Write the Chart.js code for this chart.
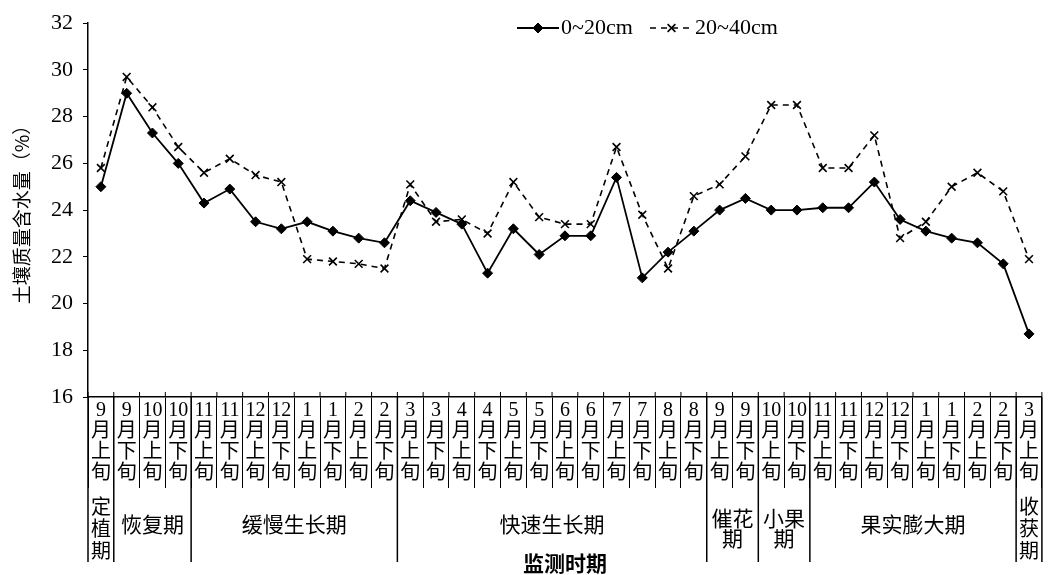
<!DOCTYPE html>
<html>
<head>
<meta charset="utf-8">
<script src="https://cdn.jsdelivr.net/npm/chart.js@4.4.0/dist/chart.umd.min.js"></script>
<style>
  html, body { margin: 0; padding: 0; background: #fff; }
</style>
</head>
<body>
<canvas id="myChart" width="1049" height="575"></canvas>
<script>
// monitoring dates: month + 旬
const months = ["9","9","10","10","11","11","12","12","1","1","2","2","3","3","4","4","5","5","6","6","7","7","8","8","9","9","10","10","11","11","12","12","1","1","2","2","3"];
const xun = ["上","下","上","下","上","下","上","下","上","下","上","下","上","下","上","下","上","下","上","下","上","下","上","下","上","下","上","下","上","下","上","下","上","下","上","下","上"];

// soil moisture (%)
const layer1 = [25.0, 29.0, 27.3, 26.0, 24.3, 24.9, 23.5, 23.2, 23.5, 23.1, 22.8, 22.6,
  24.4, 23.9, 23.4, 21.3, 23.2, 22.1, 22.9, 22.9, 25.4, 21.1, 22.2, 23.1,
  24.0, 24.5, 24.0, 24.0, 24.1, 24.1, 25.2, 23.6, 23.1, 22.8, 22.6, 21.7, 18.7];
const layer2 = [25.8, 29.7, 28.4, 26.7, 25.6, 26.2, 25.5, 25.2, 21.9, 21.8, 21.7, 21.5,
  25.1, 23.5, 23.6, 23.0, 25.2, 23.7, 23.4, 23.4, 26.7, 23.8, 21.5, 24.6,
  25.1, 26.3, 28.5, 28.5, 25.8, 25.8, 27.2, 22.8, 23.5, 25.0, 25.6, 24.8, 21.9];

// growth stages
const phaseNames = [["定","植","期"], ["恢复期"], ["缓慢生长期"], ["快速生长期"], ["催花","期"], ["小果","期"], ["果实膨大期"], ["收","获","期"]];
const phaseStart = [0, 1, 4, 12, 24, 26, 28, 36];
const phaseEnd = [0, 3, 11, 23, 25, 27, 35, 36];

const yTicks = { min: 16, max: 32, step: 2 };

const serif = "'Liberation Serif', 'Noto Sans CJK SC', serif";
const cjk = "'Noto Sans CJK SC', sans-serif";

const labels = months.map((m, i) => [m, "月", xun[i], "旬"]);

// stage labels + long dividers under the axis
const phasePlugin = {
  id: "phases",
  afterDraw(chart) {
    const ctx = chart.ctx;
    const xs = chart.scales.x;
    const w = xs.getPixelForValue(1) - xs.getPixelForValue(0);
    const top = xs.top;
    ctx.save();
    ctx.strokeStyle = "#000";
    ctx.lineWidth = 1.5;
    for (let i = 0; i < phaseStart.length; i++) {
      const x0 = xs.getPixelForValue(phaseStart[i]) - w / 2;
      const x1 = xs.getPixelForValue(phaseEnd[i]) + w / 2;
      ctx.beginPath();
      ctx.moveTo(x0, top);
      ctx.lineTo(x0, 562);
      ctx.stroke();
      if (i === phaseStart.length - 1) {
        ctx.beginPath();
        ctx.moveTo(x1, top);
        ctx.lineTo(x1, 562);
        ctx.stroke();
      }
      const lines = phaseNames[i];
      const lh = lines.length === 3 ? 22 : 20;
      const cy = lines.length === 1 ? 524 : 528;
      ctx.fillStyle = "#000";
      ctx.font = (lines.length === 3 ? "20px " : "21px ") + cjk;
      ctx.textAlign = "center";
      ctx.textBaseline = "middle";
      lines.forEach((t, k) => {
        ctx.fillText(t, (x0 + x1) / 2, cy + (k - (lines.length - 1) / 2) * lh);
      });
    }
    // short ticks above the axis at each category edge
    ctx.lineWidth = 1;
    for (let i = 0; i <= months.length; i++) {
      const x = xs.getPixelForValue(0) - w / 2 + i * w;
      ctx.beginPath();
      ctx.moveTo(x, top - 5);
      ctx.lineTo(x, top);
      ctx.stroke();
    }
    ctx.restore();
  }
};

// legend: line + marker + text
const legendPlugin = {
  id: "lineLegend",
  afterDraw(chart) {
    const ctx = chart.ctx;
    const spots = [[517, 559], [650, 693]];
    const y = 28;
    ctx.save();
    chart.data.datasets.forEach((ds, i) => {
      const [a, b] = spots[i];
      ctx.strokeStyle = ds.borderColor;
      ctx.lineWidth = ds.borderWidth;
      ctx.setLineDash(ds.borderDash || []);
      ctx.beginPath();
      ctx.moveTo(a, y);
      ctx.lineTo(b, y);
      ctx.stroke();
      ctx.setLineDash([]);
      ctx.fillStyle = ds.pointBackgroundColor;
      ctx.lineWidth = ds.pointBorderWidth;
      Chart.helpers.drawPoint(ctx, { pointStyle: ds.pointStyle, radius: ds.pointRadius, borderWidth: ds.pointBorderWidth }, (a + b) / 2, y);
      ctx.fillStyle = "#000";
      ctx.font = "22px " + serif;
      ctx.textAlign = "left";
      ctx.textBaseline = "middle";
      ctx.fillText(ds.label, b + 2, y);
    });
    ctx.restore();
  }
};

const ctx = document.getElementById("myChart").getContext("2d");
const chart = new Chart(ctx, {
  type: "line",
  data: {
    labels: labels,
    datasets: [
      {
        label: "0~20cm",
        data: layer1,
        borderColor: "#000",
        borderWidth: 1.8,
        pointStyle: "rectRot",
        pointRadius: 5,
        pointBackgroundColor: "#000",
        pointBorderColor: "#000",
        pointBorderWidth: 1,
        tension: 0,
        fill: false
      },
      {
        label: "20~40cm",
        data: layer2,
        borderColor: "#000",
        borderWidth: 1.6,
        borderDash: [6, 5],
        pointStyle: "crossRot",
        pointRadius: 5.5,
        pointBackgroundColor: "#000",
        pointBorderColor: "#000",
        pointBorderWidth: 1.6,
        tension: 0,
        fill: false
      }
    ]
  },
  options: {
    responsive: false,
    animation: false,
    devicePixelRatio: 1,
    layout: { padding: { top: 20, left: 0, right: 0, bottom: 0 } },
    plugins: {
      legend: { display: false },
      tooltip: { enabled: false }
    },
    scales: {
      x: {
        type: "category",
        offset: true,
        grid: { offset: true, drawOnChartArea: false, drawTicks: true, tickLength: 91, color: "#000", lineWidth: 1 },
        border: { display: true, color: "#000", width: 1.5 },
        ticks: {
          autoSkip: false,
          maxRotation: 0,
          minRotation: 0,
          padding: -88,
          color: "#000",
          font: { family: serif, size: 20, lineHeight: 1.06 }
        },
        title: {
          display: true,
          text: "监测时期",
          color: "#000",
          font: { family: cjk, size: 21, weight: "bold", lineHeight: 1 },
          padding: { top: 0, bottom: 1 }
        },
        afterFit: (s) => { s.height = 178; }
      },
      y: {
        min: yTicks.min,
        max: yTicks.max,
        ticks: {
          stepSize: yTicks.step,
          color: "#000",
          padding: 10,
          font: { family: serif, size: 22 }
        },
        grid: { drawOnChartArea: false, tickLength: 5, color: "#000" },
        border: { display: true, color: "#000", width: 1.5 },
        title: {
          display: true,
          text: "土壤质量含水量（%）",
          color: "#000",
          font: { family: cjk, size: 19, lineHeight: 1.2 },
          padding: { top: 10, bottom: 0 }
        },
        afterFit: (s) => { s.width = 88; }
      }
    }
  },
  plugins: [phasePlugin, legendPlugin]
});
</script>
</body>
</html>
